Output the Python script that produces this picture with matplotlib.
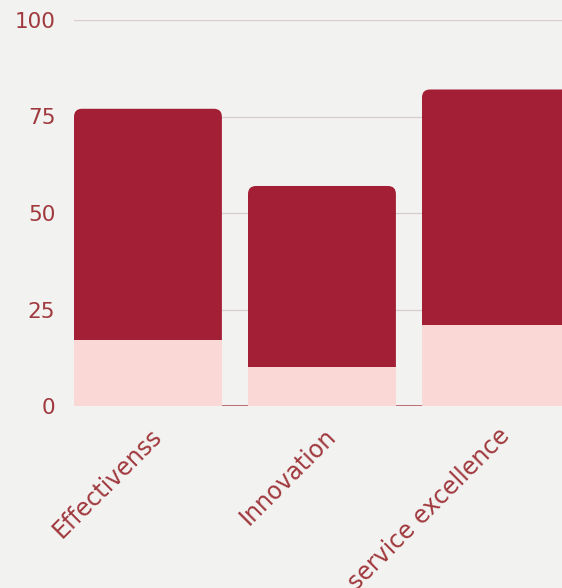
import matplotlib.pyplot as plt
from matplotlib.patches import FancyBboxPatch
from matplotlib.transforms import ScaledTranslation

# data
categories = ["Effectivenss", "Innovation", "service excellence"]
base_values = [17, 10, 21]
top_values = [60, 47, 61]
yticks = [0, 25, 50, 75, 100]

dark = "#A31F36"
light = "#F9D8D5"
text_color = "#A0393E"
bg = "#F2F2F0"

fig = plt.figure(figsize=(5.62, 5.88), dpi=100, facecolor=bg)
ax = fig.add_axes([74 / 562, 182 / 588, 1 - 74 / 562, 386 / 588])
ax.set_facecolor(bg)

width = 0.85
x = list(range(len(categories)))
ax.set_xlim(-width / 2, -width / 2 + 488 / 174)
ax.set_ylim(0, 100)

# rounding radius in data units (about 8 px)
ax_w = fig.get_figwidth() * fig.dpi * ax.get_position().width
ax_h = fig.get_figheight() * fig.dpi * ax.get_position().height
x_per_px = (ax.get_xlim()[1] - ax.get_xlim()[0]) / ax_w
y_per_px = (ax.get_ylim()[1] - ax.get_ylim()[0]) / ax_h
r = 8 * x_per_px

for xi, b, t in zip(x, base_values, top_values):
    total = b + t
    p = FancyBboxPatch((xi - width / 2, 0), width, total,
                       boxstyle=f"round,pad=0,rounding_size={r}",
                       mutation_aspect=y_per_px / x_per_px,
                       facecolor=dark, edgecolor="none", zorder=2)
    ax.add_patch(p)
ax.bar(x, base_values, width=width, color=light, zorder=3)

ax.axhline(0, color="#B8646B", lw=1.3, zorder=1.5)
ax.set_yticks(yticks)
ax.grid(axis="y", color="#D9CCCC", lw=0.9, zorder=0)
ax.set_axisbelow(True)
for s in ax.spines.values():
    s.set_visible(False)

ax.tick_params(axis="y", length=0, pad=13.5, labelsize=15.5, labelcolor=text_color)
ax.tick_params(axis="x", length=0, pad=13, labelsize=17, labelcolor=text_color)
ax.set_xticks(x)
ax.set_xticklabels(categories, rotation=45, ha="right", va="top", rotation_mode="anchor")
offset = ScaledTranslation(1 / 72, 0, fig.dpi_scale_trans)
for lab in ax.get_xticklabels():
    lab.set_transform(lab.get_transform() + offset)

fig.savefig("out.png", dpi=100, facecolor=bg)
